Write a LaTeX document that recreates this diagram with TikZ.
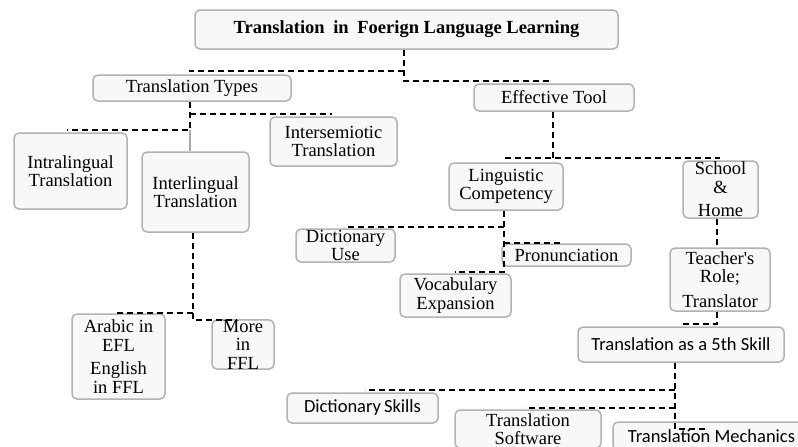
\documentclass[tikz,border=0pt]{standalone}
\usepackage{fontspec}
\setmainfont{Liberation Serif}[Ligatures=TeXOff]
\newfontfamily\calib{Carlito}
\newcommand\txtsz{\fontsize{18.5}{18.5}\selectfont}
\definecolor{boxline}{RGB}{178,178,178}
\definecolor{boxfill}{RGB}{248,248,248}
\definecolor{stemgray}{RGB}{170,170,170}
\begin{document}
\begin{tikzpicture}[x=1pt,y=-1pt]
\tikzset{
  box/.style={draw=boxline, line width=1.5pt, fill=boxfill,
    rounded corners=5pt, inner sep=0pt, align=center, font=\txtsz},
  sbox/.style={box, font=\txtsz\calib},
  conn/.style={draw=black, line width=1.5pt, dash pattern=on 6pt off 4pt},
  stem/.style={draw=stemgray, line width=1.5pt},
}
\useasboundingbox (0,0) rectangle (798,447);
\clip (0,0) rectangle (798,447);
\fill[white] (0,0) rectangle (798,447);

% boxes
\node[box, minimum width=423pt, minimum height=39pt, font=\txtsz\bfseries] (title) at (406.5,29.5)
  {Translation\hspace{4pt} in\hspace{4pt} Foerign Language Learning};
\node[box, minimum width=198pt, minimum height=26pt] (types) at (192,88) {Translation Types};
\node[box, minimum width=113pt, minimum height=76pt] (intra) at (70.5,171) {Intralingual\\Translation};
\node[box, minimum width=107pt, minimum height=80pt] (inter) at (195.5,192) {Interlingual\\Translation};
\node[box, minimum width=127pt, minimum height=49pt] (semi) at (333.5,141.5) {Intersemiotic\\Translation};
\node[box, minimum width=93pt, minimum height=85pt] (arabic) at (118.5,356.5) {Arabic in\\EFL\\[5pt]English\\in FFL};
\node[box, minimum width=62pt, minimum height=45pt] (more) at (243,344.5) {More\\in\\FFL};
\node[box, minimum width=160pt, minimum height=27pt] (eff) at (554,97.5) {Effective Tool};
\node[box, minimum width=114pt, minimum height=47pt] (ling) at (506,186.5) {Linguistic\\Competency};
\node[box, minimum width=75pt, minimum height=57pt] (school) at (720.5,189.5) {School\\\&\\[5pt]Home};
\node[box, minimum width=100pt, minimum height=63pt] (teacher) at (720,279.5) {Teacher's\\Role;\\[6pt]Translator};
\node[sbox, minimum width=206pt, minimum height=35pt] (fifth) at (681,344.5) {Translation as a 5th Skill};
\node[box, minimum width=99pt, minimum height=33pt] (dictuse) at (345.5,245.5) {Dictionary\\Use};
\node[box, minimum width=129pt, minimum height=22pt] (pron) at (566.5,255) {Pronunciation};
\node[box, minimum width=111pt, minimum height=43pt] (vocab) at (455.5,295.5) {Vocabulary\\Expansion};
\node[sbox, minimum width=151pt, minimum height=30pt] (dskills) at (362.5,408) {Dictionary\,Skills};
\node[box, minimum width=146pt, minimum height=38pt] (soft) at (528,429) {Translation\\Software};
\node[sbox, minimum width=197pt, minimum height=28pt] (mech) at (711.5,436) {Translation Mechanics};

% junction / end coordinates
\coordinate (tJ) at (404,71);  \coordinate (tL) at (189,71);  \coordinate (tR) at (550,81);
\coordinate (yJ1) at (190,114); \coordinate (yR) at (332,114);
\coordinate (yJ2) at (190,130); \coordinate (yL) at (67,130);
\coordinate (iJ1) at (193,313); \coordinate (iL) at (115,313);
\coordinate (iJ2) at (193,320); \coordinate (iR) at (237,320);
\coordinate (eJ) at (553,158);  \coordinate (eL) at (505,158); \coordinate (eR) at (720,158);
\coordinate (lA) at (504,227);  \coordinate (lAL) at (344,227);
\coordinate (lB) at (504,243);  \coordinate (lBR) at (562,243);
\coordinate (lC) at (504,272);  \coordinate (lCL) at (455,272);
\coordinate (sX) at (717,240);
\coordinate (rJ) at (717,324);  \coordinate (rL) at (680,324);
\coordinate (fA) at (675,390);  \coordinate (fAL) at (365,390);
\coordinate (fB) at (675,408);  \coordinate (fBL) at (525,408);
\coordinate (fC) at (675,429);  \coordinate (fCR) at (705,429);

% connectors
\draw[conn] (title.south -| tJ) -- (tJ |- tR) -- (tR);
\draw[conn] (tJ) -- (tL);
\draw[conn] (types.south -| yJ2) -- (yJ2) -- (yL);
\draw[conn] (yJ1) -- (yR);
\draw[stem] (yJ2) -- (yJ2 |- inter.north);
\draw[conn] (inter.south -| iJ2) -- (iJ2) -- (iR);
\draw[conn] (iJ1) -- (iL);
\draw[conn] (eff.south -| eJ) -- (eJ);
\draw[conn] (eL) -- (eR);
\draw[conn] (ling.south -| lC) -- (lC) -- (lCL);
\draw[conn] (lA) -- (lAL);
\draw[conn] (lB) -- (lBR);
\draw[conn] (school.south -| sX) -- (teacher.north -| sX);
\draw[conn] (teacher.south -| rJ) -- (rJ) -- (rL);
\draw[conn] (fifth.south -| fC) -- (fC) -- (fCR);
\draw[conn] (fA) -- (fAL);
\draw[conn] (fB) -- (fBL);
\end{tikzpicture}
\end{document}
